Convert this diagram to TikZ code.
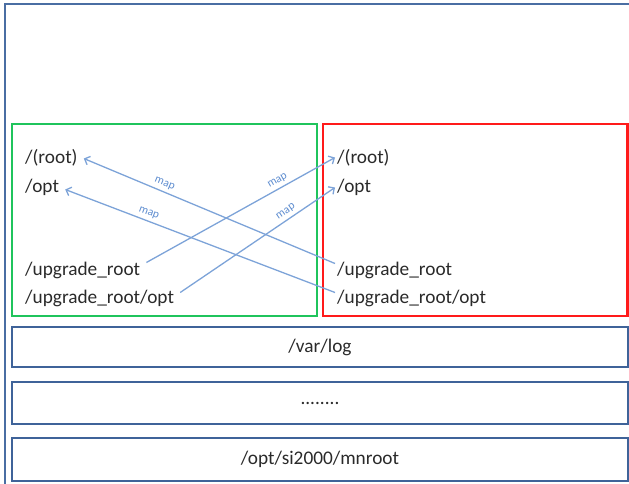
\documentclass[tikz,border=0pt]{standalone}
\usepackage{fontspec}
\setmainfont{Carlito}
\usetikzlibrary{arrows.meta}
\definecolor{frameblue}{HTML}{4A6EA3}
\definecolor{boxblue}{HTML}{3F6399}
\definecolor{mapblue}{HTML}{7DA3D8}
\definecolor{maptext}{HTML}{5D8CCF}
\definecolor{greenbox}{HTML}{1FC45C}
\definecolor{redbox}{HTML}{FF1A1A}
\definecolor{ink}{HTML}{2A2A2A}
\begin{document}
\begin{tikzpicture}[x=1pt,y=-1pt,
  dirlabel/.style={text=ink, font=\fontsize{19.3}{22}\selectfont, inner ysep=0pt,
    text height=13pt, text depth=4pt},
  leftdir/.style={dirlabel, anchor=base west, inner xsep=6pt},
  rightdir/.style={dirlabel, anchor=base west, inner xsep=2pt},
  mapline/.style={mapblue, line width=1.3pt, -{Straight Barb[length=4.5pt,width=9pt]}},
  maplabel/.style={text=maptext, font=\fontsize{11.5}{13}\selectfont, sloped, above, inner sep=3pt},
  layerbox/.style={draw=boxblue, line width=2.8pt, minimum width=616pt, text=ink,
    font=\fontsize{19.3}{22}\selectfont},
  partbox/.style={line width=2.4pt}
]
\useasboundingbox (0,0) rectangle (629,484);
\begin{scope}
  \clip (0,0) rectangle (629,484);
  % outer frame, running off the right and bottom edges
  \draw[frameblue, line width=2.8pt] (5,520) -- (5,4) -- (660,4);
\end{scope}

% the two partitions
\draw[partbox, greenbox] (12,124) rectangle (317,316);
\draw[partbox, redbox] (323,124) rectangle (627.5,316);

% directories in the left partition
\node[leftdir] (lroot) at (19,164) {/(root)};
\node[leftdir] (lopt) at (19,192) {/opt};
\node[leftdir] (lup) at (19,275) {/upgrade\_root};
\node[leftdir] (lupopt) at (19,303) {/upgrade\_root/opt};

% directories in the right partition
\node[rightdir] (rroot) at (335,164) {/(root)};
\node[rightdir] (ropt) at (335,192) {/opt};
\node[rightdir] (rup) at (335,275) {/upgrade\_root};
\node[rightdir] (rupopt) at (335,303) {/upgrade\_root/opt};

% mappings between the partitions
\draw[mapline] ([yshift=7pt]rup.west) -- node[maplabel, pos=0.69] {map} ([yshift=1pt]lroot.east);
\draw[mapline] ([yshift=6pt]rupopt.west) -- node[maplabel, pos=0.70] {map} ([yshift=-2pt]lopt.east);
\draw[mapline] ([yshift=8pt]lup.east) -- node[maplabel, pos=0.715] {map} ([yshift=2pt]rroot.west);
\draw[mapline] ([yshift=6pt]lupopt.east) -- node[maplabel, pos=0.71] {map} (ropt.west);

% shared layers below
\node[layerbox, minimum height=40pt] (varlog) at (320,347) {/var/log};
\node[layerbox, minimum height=42pt] (dots) at (320,403) {........};
\node[layerbox, minimum height=43pt] (mnroot) at (320,459.5) {/opt/si2000/mnroot};
\end{tikzpicture}
\end{document}
